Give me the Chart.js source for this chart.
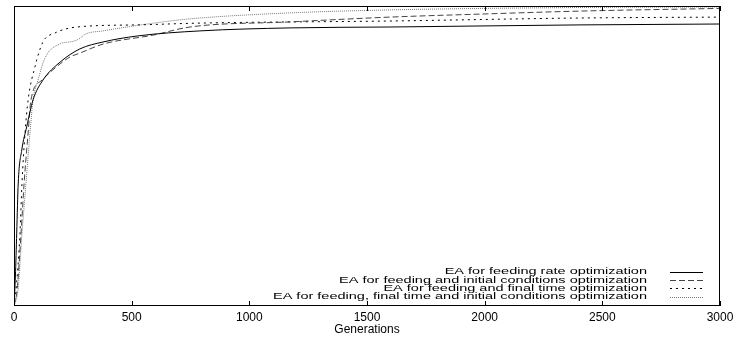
<!DOCTYPE html>
<html>
<head>
<meta charset="utf-8">
<script src="https://cdn.jsdelivr.net/npm/chart.js@4"></script>
<style>
  html, body { margin: 0; padding: 0; background: #fff; }
</style>
</head>
<body>
<canvas id="c" width="736" height="338"></canvas>
<script>
// series (generations vs normalised fitness, 0..1)
const seriesNames = [
  'EA for feeding rate optimization',
  'EA for feeding and initial conditions optimization',
  'EA for feeding and final time optimization',
  'EA for feeding, final time and initial conditions optimization'
];

const rateGen = [0, 6, 11.5, 18, 33, 54, 81, 123, 196, 280, 378, 523, 790, 1173, 1598, 2405, 3000];
const rateFit = [0, 0.1, 0.243, 0.41, 0.52, 0.597, 0.687, 0.753, 0.813, 0.857, 0.88, 0.9, 0.917, 0.927, 0.93, 0.937, 0.94];

const initGen = [0, 13, 30, 43, 60, 72, 119, 196, 238, 280, 378, 591, 748, 1173, 1598, 1980, 2405, 3000];
const initFit = [0, 0.053, 0.243, 0.41, 0.577, 0.687, 0.753, 0.807, 0.83, 0.843, 0.873, 0.903, 0.93, 0.947, 0.963, 0.973, 0.983, 0.992];

const finalGen = [0, 8.5, 25.5, 34, 47, 60, 89, 123, 174, 268, 523, 790, 1598, 2405, 3000];
const finalFit = [0, 0.053, 0.243, 0.41, 0.577, 0.687, 0.797, 0.88, 0.91, 0.93, 0.937, 0.943, 0.95, 0.96, 0.963];

const allGen = [0, 17, 34, 51, 68, 81, 102, 132, 196, 250, 280, 300, 378, 663, 790, 1173, 1598, 2405, 3000];
const allFit = [0, 0.053, 0.243, 0.41, 0.577, 0.687, 0.753, 0.827, 0.874, 0.882, 0.892, 0.905, 0.917, 0.95, 0.96, 0.977, 0.987, 0.995, 0.997];

const xTicks = [0, 500, 1000, 1500, 2000, 2500, 3000];

const FONT = '"Liberation Sans", Arial, Helvetica, sans-serif';

function pts(xs, ys) {
  return xs.map((x, i) => ({ x: x, y: ys[i] }));
}

// frame with inward ticks, gnuplot style
const framePlugin = {
  id: 'frame',
  afterDatasetsDraw(chart) {
    const { ctx, chartArea: a } = chart;
    const xs = chart.scales.x;
    ctx.save();
    ctx.strokeStyle = '#000';
    ctx.lineWidth = 1;
    ctx.setLineDash([]);
    ctx.strokeRect(a.left + 0.5, a.top + 0.5, a.right - a.left - 1, a.bottom - a.top - 1);
    ctx.beginPath();
    xTicks.forEach(v => {
      const px = Math.round(xs.getPixelForValue(v)) + 0.5;
      ctx.moveTo(px, a.bottom);
      ctx.lineTo(px, a.bottom - 5);
      ctx.moveTo(px, a.top);
      ctx.lineTo(px, a.top + 5);
    });
    ctx.stroke();
    ctx.restore();
  }
};

// key in the lower right: text first, line sample after it
const keyPlugin = {
  id: 'key',
  afterDraw(chart) {
    const ctx = chart.ctx;
    ctx.save();
    ctx.font = '9px ' + FONT;
    const longest = Math.max(...seriesNames.map(n => ctx.measureText(n).width));
    const sx = 374 / longest;
    chart.data.datasets.forEach((ds, i) => {
      const y = 272 + i * 8.2;
      ctx.save();
      ctx.translate(647, y);
      ctx.scale(sx, 1);
      ctx.textAlign = 'right';
      ctx.textBaseline = 'middle';
      ctx.fillStyle = '#000';
      ctx.fillText(ds.label, 0, 0);
      ctx.restore();
      ctx.beginPath();
      ctx.setLineDash(ds.borderDash || []);
      ctx.strokeStyle = ds.borderColor;
      ctx.lineWidth = ds.borderWidth;
      ctx.moveTo(670, Math.round(y) + 0.5);
      ctx.lineTo(703, Math.round(y) + 0.5);
      ctx.stroke();
    });
    ctx.restore();
  }
};

new Chart(document.getElementById('c'), {
  type: 'line',
  data: {
    datasets: [
      { label: seriesNames[0], data: pts(rateGen, rateFit), borderColor: '#000', borderWidth: 1 },
      { label: seriesNames[1], data: pts(initGen, initFit), borderColor: '#444', borderWidth: 1, borderDash: [6, 3] },
      { label: seriesNames[2], data: pts(finalGen, finalFit), borderColor: '#000', borderWidth: 1, borderDash: [2, 4] },
      { label: seriesNames[3], data: pts(allGen, allFit), borderColor: '#777', borderWidth: 1, borderDash: [1, 1] }
    ]
  },
  options: {
    responsive: false,
    animation: false,
    devicePixelRatio: 1,
    layout: { padding: { left: 14, right: 16, top: 6, bottom: 0 } },
    elements: {
      point: { radius: 0 },
      line: { cubicInterpolationMode: 'monotone', fill: false }
    },
    plugins: {
      legend: { display: false },
      tooltip: { enabled: false }
    },
    scales: {
      x: {
        type: 'linear',
        min: 0,
        max: 3000,
        grid: { display: false, drawTicks: false },
        border: { display: false },
        afterBuildTicks: s => { s.ticks = xTicks.map(v => ({ value: v })); },
        ticks: {
          color: '#000',
          font: { family: FONT, size: 12 },
          padding: 4,
          maxRotation: 0,
          autoSkip: false,
          callback: v => String(v)
        },
        title: {
          display: true,
          text: 'Generations',
          color: '#000',
          font: { family: FONT, size: 12 },
          padding: { top: 0, bottom: 1 }
        },
        afterFit: s => { s.paddingLeft = 0; s.paddingRight = 0; s.height = 32; }
      },
      y: {
        display: false,
        min: 0,
        max: 1
      }
    }
  },
  plugins: [framePlugin, keyPlugin]
});
</script>
</body>
</html>
